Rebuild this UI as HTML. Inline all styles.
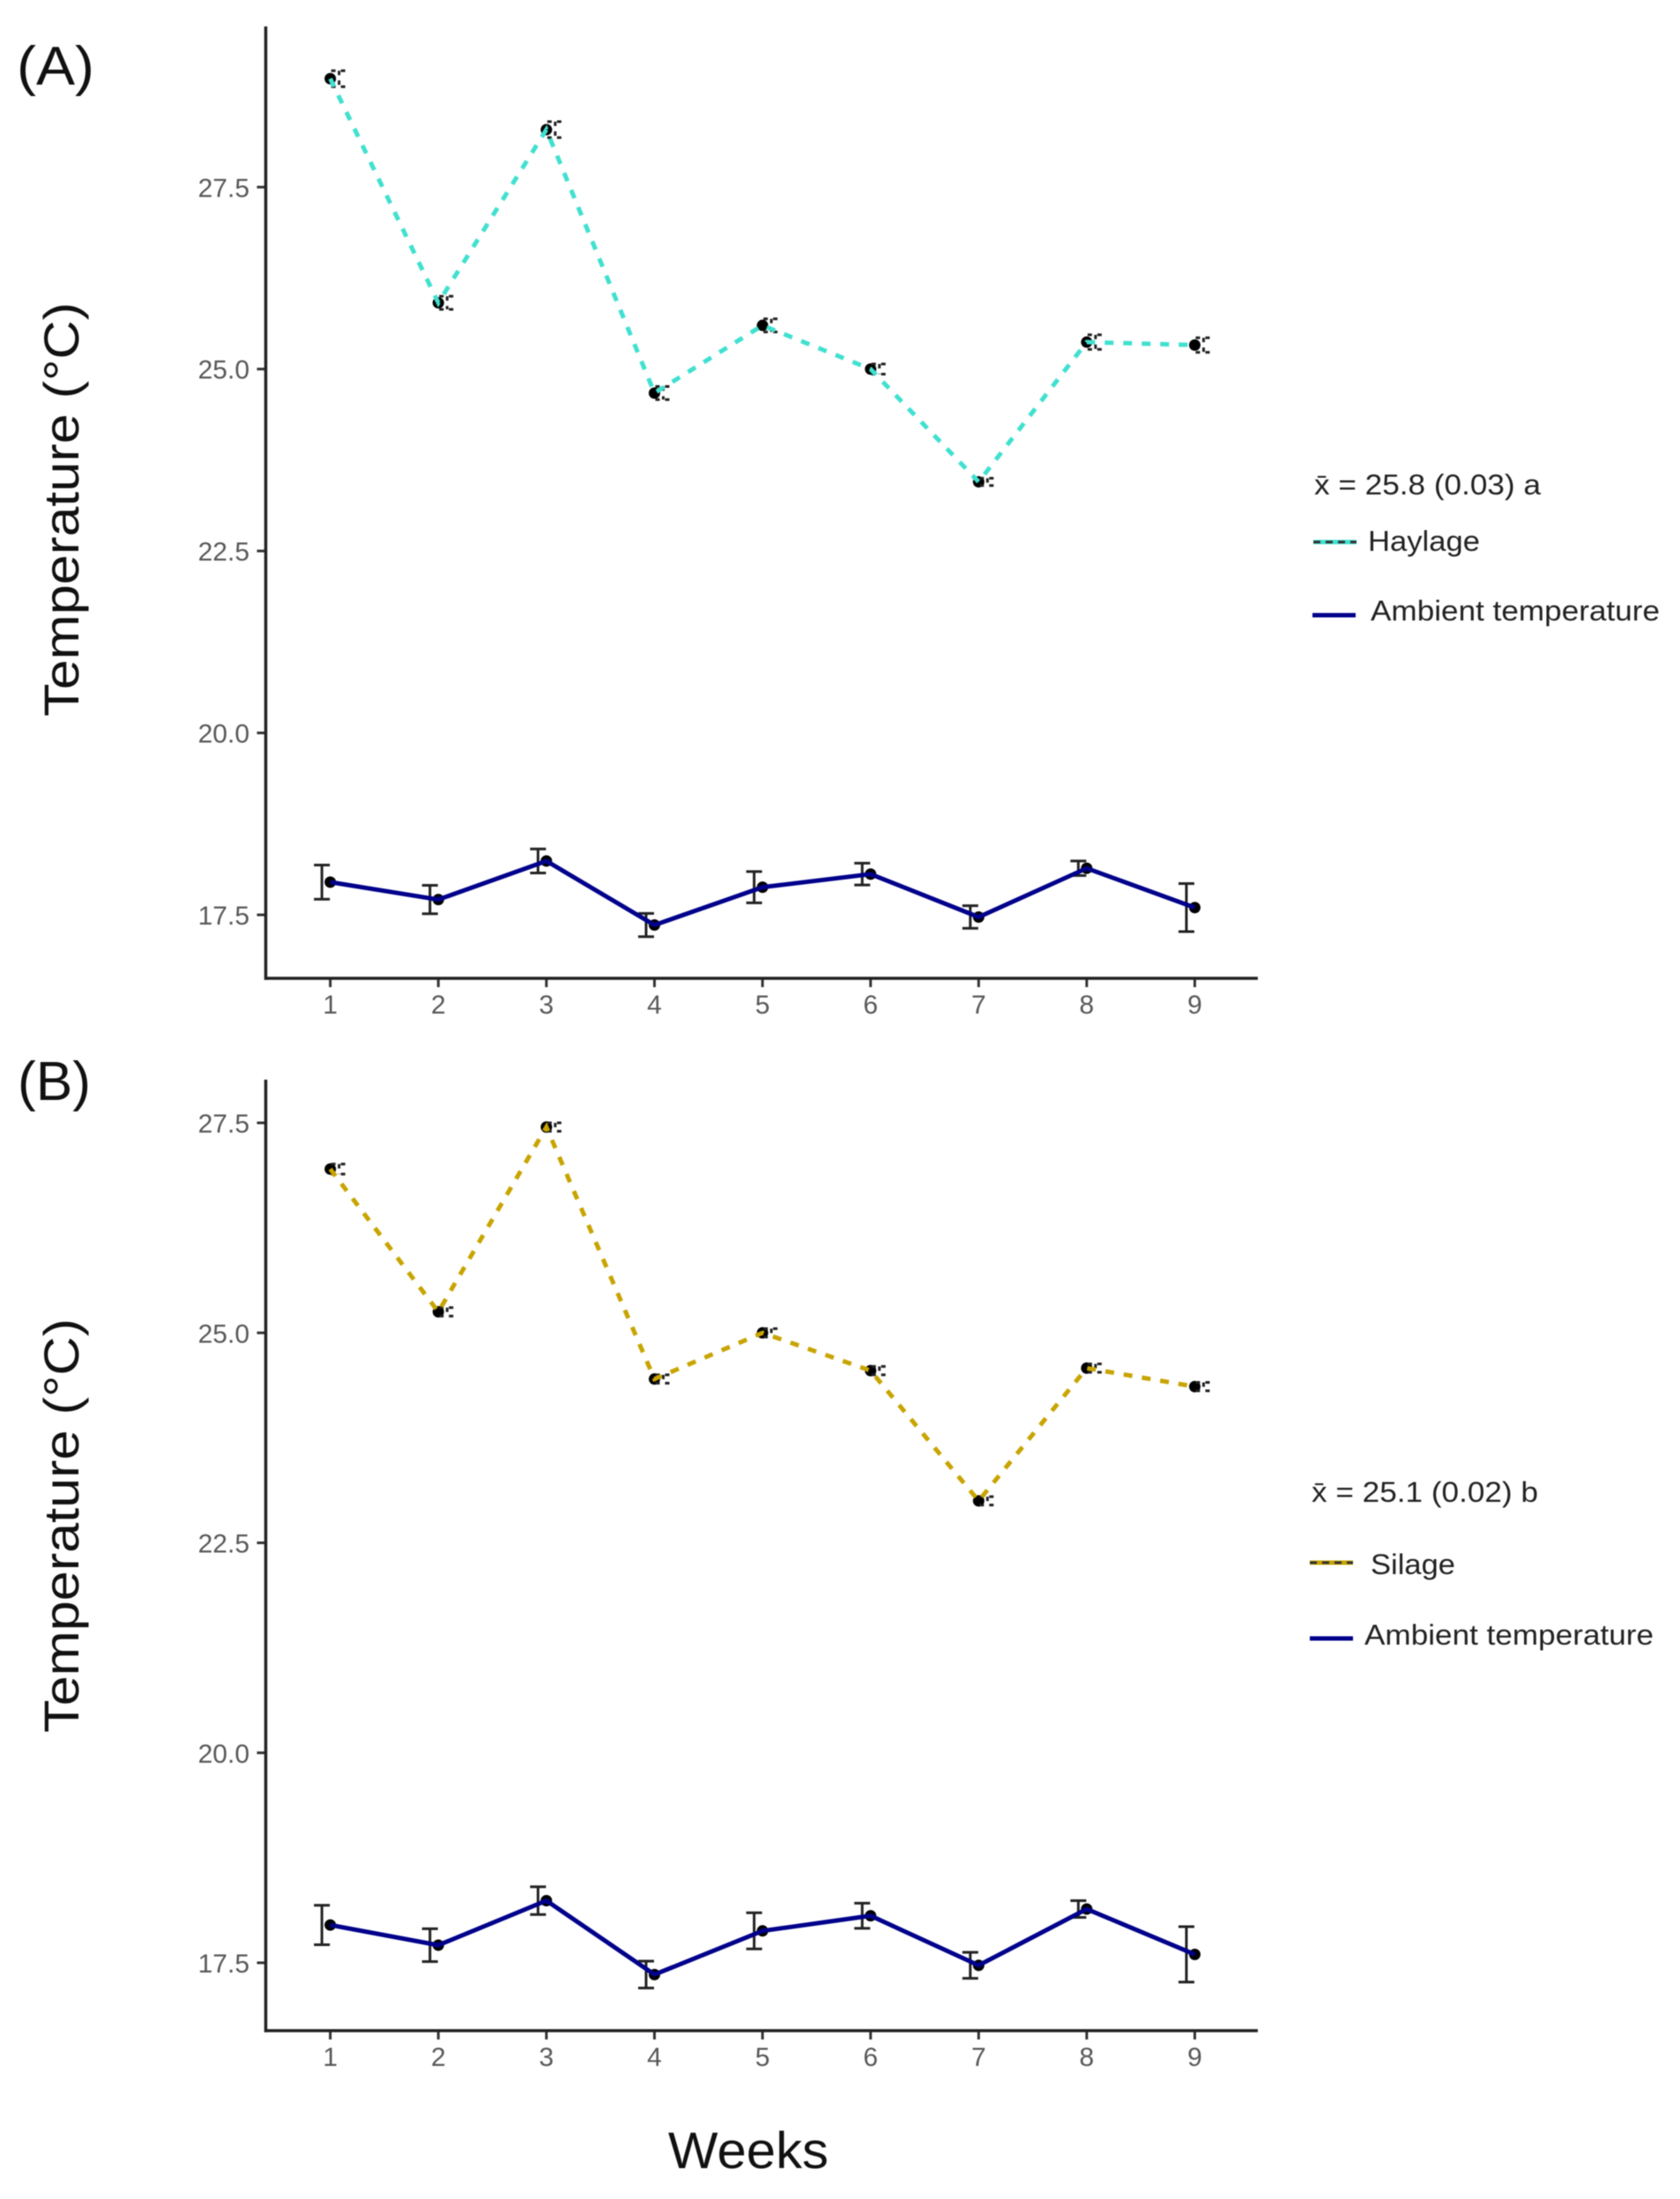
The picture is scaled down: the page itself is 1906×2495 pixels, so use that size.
<!DOCTYPE html>
<html lang="en">
<head>
<meta charset="utf-8">
<title>Temperature by week</title>
<style>
html,body{margin:0;padding:0;background:#fff;}
body{width:1906px;height:2495px;overflow:hidden;}
svg{display:block;filter:blur(0.6px);}
text{font-family:"Liberation Sans",sans-serif;}
</style>
</head>
<body>
<svg id="chart" xmlns="http://www.w3.org/2000/svg" width="1906" height="2495" viewBox="0 0 1906 2495">
  <rect x="0" y="0" width="1906" height="2495" fill="#ffffff"/>

  <text x="19" y="96" font-size="62" fill="#111" textLength="88" lengthAdjust="spacingAndGlyphs">(A)</text>
  <text x="20" y="1248" font-size="62" fill="#111" textLength="83" lengthAdjust="spacingAndGlyphs">(B)</text>

  <text transform="translate(89,578) rotate(-90)" text-anchor="middle" font-size="56" fill="#111" textLength="470" lengthAdjust="spacingAndGlyphs">Temperature (°C)</text>
  <text transform="translate(89,1731) rotate(-90)" text-anchor="middle" font-size="56" fill="#111" textLength="470" lengthAdjust="spacingAndGlyphs">Temperature (°C)</text>
  <text x="758" y="2460" font-size="58" fill="#111" textLength="182" lengthAdjust="spacingAndGlyphs">Weeks</text>

  <g>
    <text x="1491" y="561" font-size="32" fill="#222" textLength="257" lengthAdjust="spacingAndGlyphs">x̄ = 25.8 (0.03) a</text>
    <line x1="1490" y1="615" x2="1539" y2="615" stroke="#40E0D0" stroke-width="5"/>
    <line x1="1490" y1="615" x2="1539" y2="615" stroke="#333" stroke-width="3" stroke-dasharray="8 6"/>
    <text x="1552" y="625" font-size="32" fill="#222" textLength="127" lengthAdjust="spacingAndGlyphs">Haylage</text>
    <line x1="1489" y1="698" x2="1538" y2="698" stroke="#00008B" stroke-width="5"/>
    <text x="1555" y="704" font-size="32" fill="#222" textLength="328" lengthAdjust="spacingAndGlyphs">Ambient temperature</text>
  </g>
  <g>
    <text x="1488" y="1704" font-size="32" fill="#222" textLength="257" lengthAdjust="spacingAndGlyphs">x̄ = 25.1 (0.02) b</text>
    <line x1="1486" y1="1773" x2="1535" y2="1773" stroke="#C8A400" stroke-width="5"/>
    <line x1="1486" y1="1773" x2="1535" y2="1773" stroke="#333" stroke-width="3" stroke-dasharray="8 6"/>
    <text x="1555" y="1786" font-size="32" fill="#222" textLength="96" lengthAdjust="spacingAndGlyphs">Silage</text>
    <line x1="1486" y1="1859" x2="1535" y2="1859" stroke="#00008B" stroke-width="5"/>
    <text x="1548" y="1866" font-size="32" fill="#222" textLength="328" lengthAdjust="spacingAndGlyphs">Ambient temperature</text>
  </g>
</svg>
<script>
const weeks = [1, 2, 3, 4, 5, 6, 7, 8, 9];
const yTickValues = [17.5, 20.0, 22.5, 25.0, 27.5];
const yTickLabels = ['17.5', '20.0', '22.5', '25.0', '27.5'];

const haylage = [28.99, 25.91, 28.29, 24.67, 25.60, 25.00, 23.45, 25.37, 25.33];
const haylageSE = [0.11, 0.09, 0.11, 0.09, 0.09, 0.07, 0.05, 0.10, 0.10];
const silage = [26.95, 25.25, 27.45, 24.45, 25.00, 24.55, 23.00, 24.58, 24.36];
const silageSE = [0.06, 0.05, 0.05, 0.05, 0.05, 0.05, 0.05, 0.05, 0.05];
const ambient = [17.95, 17.71, 18.24, 17.36, 17.88, 18.06, 17.47, 18.14, 17.60];
const ambientSE = [0.235, 0.195, 0.165, 0.16, 0.215, 0.15, 0.155, 0.10, 0.33];

const NS = 'http://www.w3.org/2000/svg';
const svg = document.getElementById('chart');

function mk(tag, attrs, parent) {
  const el = document.createElementNS(NS, tag);
  for (const k in attrs) el.setAttribute(k, attrs[k]);
  parent.appendChild(el);
  return el;
}

function xScale(w) { return 374.7 + (w - 1) * 122.6; }

function drawSeries(g, prefix, values, errors, y, color, dashed, offset) {
  const dotR = 6.5;
  values.forEach(function (v, i) {
    const dot = mk('circle', { cx: xScale(weeks[i]), cy: y(v), r: dotR, fill: '#000' }, g);
    
    
  });
  values.forEach(function (v, i) {
    const ex = xScale(weeks[i]) + offset;
    const hi = y(v + errors[i]);
    const lo = y(v - errors[i]);
    const dash = dashed ? '5 6' : 'none';
    const bar = mk('path', {
      d: 'M' + (ex - 9) + ' ' + hi + 'H' + (ex + 9) + 'M' + ex + ' ' + hi + 'V' + lo + 'M' + (ex - 9) + ' ' + lo + 'H' + (ex + 9),
      fill: 'none', stroke: '#222', 'stroke-width': 3, 'stroke-dasharray': dash
    }, g);
    
    
  });
  const pts = values.map(function (v, i) { return xScale(weeks[i]) + ',' + y(v); }).join(' ');
  const line = mk('polyline', {
    points: pts, fill: 'none', stroke: color, 'stroke-width': 5,
    'stroke-dasharray': dashed ? '10 11' : 'none', 'stroke-linejoin': 'miter'
  }, g);
  
  
}

function drawPanel(name, axisTop, axisBottom, y, feed, feedSE, feedName, feedColor) {
  const g = mk('g', {}, svg);
  
  

  yTickValues.forEach(function (v, i) {
    const tick = mk('line', { x1: 291.5, x2: 301, y1: y(v), y2: y(v), stroke: '#333', 'stroke-width': 3 }, g);
    
    
    const lab = mk('text', { x: 283, y: y(v) + 11, 'text-anchor': 'end', 'font-size': 30, fill: '#585858' }, g);
    
    
    lab.textContent = yTickLabels[i];
  });
  weeks.forEach(function (w) {
    const tick = mk('line', { x1: xScale(w), x2: xScale(w), y1: axisBottom, y2: axisBottom + 10, stroke: '#333', 'stroke-width': 3 }, g);
    
    
    const lab = mk('text', { x: xScale(w), y: axisBottom + 40, 'text-anchor': 'middle', 'font-size': 30, fill: '#585858' }, g);
    
    
    lab.textContent = String(w);
  });

  const yAxis = mk('line', { x1: 301.5, x2: 301.5, y1: axisTop, y2: axisBottom + 1.75, stroke: '#222', 'stroke-width': 3.5 }, g);
  
  
  const xAxis = mk('line', { x1: 300, x2: 1427, y1: axisBottom, y2: axisBottom, stroke: '#222', 'stroke-width': 3.5 }, g);
  
  

  drawSeries(g, feedName, feed, feedSE, y, feedColor, true, 10);
  drawSeries(g, 'ambient', ambient, ambientSE, y, '#00008B', false, -9.5);
}

function yScaleA(v) { return 1038 - (v - 17.5) * 82.57; }
function yScaleB(v) { return 2227 - (v - 17.5) * 95.3; }

drawPanel('panel-a-chart', 30, 1110, yScaleA, haylage, haylageSE, 'haylage', '#40E0D0');
drawPanel('panel-b-chart', 1225, 2304, yScaleB, silage, silageSE, 'silage', '#C8A400');
</script>
</body>
</html>
